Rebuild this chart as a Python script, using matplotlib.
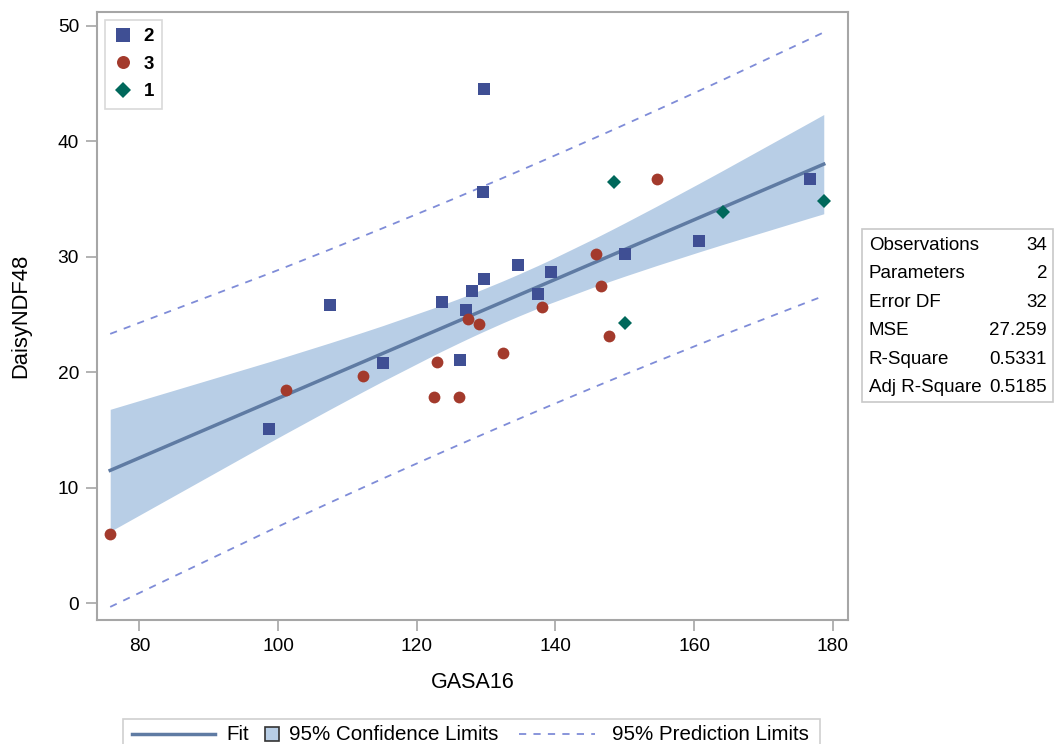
import numpy as np
import matplotlib
matplotlib.use("Agg")
import matplotlib.pyplot as plt
from matplotlib.lines import Line2D
from matplotlib.patches import Rectangle

plt.rcParams['font.family'] = ['Liberation Sans', 'DejaVu Sans']

# group 2 (squares)
x_g2 = [129.75, 129.5, 107.5, 123.7, 128.0, 129.75, 134.65, 139.3, 137.5, 127.1,
        115.1, 126.3, 176.7, 160.75, 150.0, 98.75]
y_g2 = [44.5, 35.6, 25.8, 26.1, 27.0, 28.1, 29.3, 28.7, 26.8, 25.4,
        20.8, 21.1, 36.76, 31.4, 30.2, 15.1]
# group 3 (circles)
x_g3 = [127.35, 129.0, 138.0, 112.2, 101.1, 122.9, 132.45, 122.45, 126.1, 145.8,
        154.65, 146.6, 147.8, 75.8]
y_g3 = [24.6, 24.15, 25.65, 19.65, 18.47, 20.9, 21.7, 17.86, 17.86, 30.2,
        36.76, 27.45, 23.14, 5.97]
# group 1 (diamonds)
x_g1 = [148.45, 178.7, 164.1, 150.1]
y_g1 = [36.45, 34.8, 33.9, 24.27]

stat_names = ["Observations", "Parameters", "Error DF", "MSE", "R-Square", "Adj R-Square"]
stat_values = ["34", "2", "32", "27.259", "0.5331", "0.5185"]
legend_labels = ["Fit", "95% Confidence Limits", "95% Prediction Limits"]

# regression fit and limits
x_all = np.array(x_g2 + x_g3 + x_g1)
y_all = np.array(y_g2 + y_g3 + y_g1)
n = len(x_all)
b1, b0 = np.polyfit(x_all, y_all, 1)
mse = np.sum((y_all - (b0 + b1 * x_all)) ** 2) / (n - 2)
xbar = x_all.mean()
sxx = np.sum((x_all - xbar) ** 2)
tcrit = 2.0369  # t(0.975, 32)
xs = np.unique(x_all)
fit = b0 + b1 * xs
se_mean = np.sqrt(mse * (1.0 / n + (xs - xbar) ** 2 / sxx))
se_pred = np.sqrt(mse * (1 + 1.0 / n + (xs - xbar) ** 2 / sxx))

c_band = '#B8CEE6'
c_fit = '#5F7BA3'
c_pred = '#7F8CD8'
c_g2 = '#3F4F94'
c_g3 = '#A33A2C'
c_g1 = '#00685B'
c_frame = '#A6A6A6'

fig = plt.figure(figsize=(10.57, 7.44), dpi=100)
ax = fig.add_axes([0.0918, 0.1667, 0.7105, 0.8172])

ax.fill_between(xs, fit - tcrit * se_mean, fit + tcrit * se_mean, color=c_band, lw=0)
ax.plot(xs, fit, color=c_fit, lw=2.5)
ax.plot(xs, fit + tcrit * se_pred, color=c_pred, lw=1.3, dashes=(4, 4))
ax.plot(xs, fit - tcrit * se_pred, color=c_pred, lw=1.3, dashes=(4, 4))

h2, = ax.plot(x_g2, y_g2, 's', color=c_g2, ms=9, mew=0, label='2')
h3, = ax.plot(x_g3, y_g3, 'o', color=c_g3, ms=8.5, mew=0, label='3')
h1, = ax.plot(x_g1, y_g1, 'D', color=c_g1, ms=7.5, mew=0, label='1')

ax.set_xlim(73.9, 182.2)
ax.set_ylim(-1.45, 51.2)
ax.set_xticks([80, 100, 120, 140, 160, 180])
ax.set_yticks([0, 10, 20, 30, 40, 50])
ax.tick_params(direction='out', length=8, width=1.2, color=c_frame, labelsize=13.8, pad=5)
for s in ax.spines.values():
    s.set_color(c_frame)
    s.set_linewidth(1.5)
ax.set_xlabel("GASA16", fontsize=15.5, labelpad=12)
ax.set_ylabel("DaisyNDF48", fontsize=15.8, labelpad=19)

leg = ax.legend(handles=[h2, h3, h1], loc='upper left', fancybox=False, frameon=True,
                edgecolor='#D0D0D0', prop={'weight': 'bold', 'size': 13.5},
                handlelength=1.0, handletextpad=0.6, labelspacing=0.55,
                borderpad=0.45, borderaxespad=0, markerscale=1.1,
                bbox_to_anchor=(0.0107, 0.987))
leg.get_frame().set_linewidth(1.2)

W, H = 1057.0, 744.0


def fx(px):
    return px / W


def fy(py):
    return 1 - py / H


# bottom legend, drawn by hand so each key keeps its own width
fig.add_artist(Rectangle((fx(123), fy(752)), fx(820) - fx(123), fy(719) - fy(752),
                         transform=fig.transFigure, fill=False, edgecolor='#D0D0D0', lw=1.2))
ly = fy(734)
fig.add_artist(Line2D([fx(132), fx(215)], [ly, ly], transform=fig.transFigure, color=c_fit, lw=2.5))
fig.text(fx(226), ly, legend_labels[0], fontsize=14.8, va='center', ha='left')
fig.add_artist(Rectangle((fx(265), fy(741)), fx(279) - fx(265), fy(727) - fy(741),
                         transform=fig.transFigure, facecolor=c_band, edgecolor='#333333', lw=1.2))
fig.text(fx(289), ly, legend_labels[1], fontsize=14.8, va='center', ha='left')
fig.add_artist(Line2D([fx(519), fx(595)], [ly, ly], transform=fig.transFigure, color=c_pred,
                      lw=1.3, dashes=(4, 4)))
fig.text(fx(612), ly, legend_labels[2], fontsize=14.8, va='center', ha='left')

# fit statistics table
fig.add_artist(Rectangle((fx(862), fy(402)), fx(1053) - fx(862), fy(229) - fy(402),
                         transform=fig.transFigure, fill=False, edgecolor='#C8C8C8', lw=1.2))
for i in range(len(stat_names)):
    yy = fy(245 + i * 28.6)
    fig.text(fx(869), yy, stat_names[i], fontsize=13.5, va='center', ha='left')
    fig.text(fx(1047), yy, stat_values[i], fontsize=13.5, va='center', ha='right')

fig.savefig("out.png", dpi=100)
